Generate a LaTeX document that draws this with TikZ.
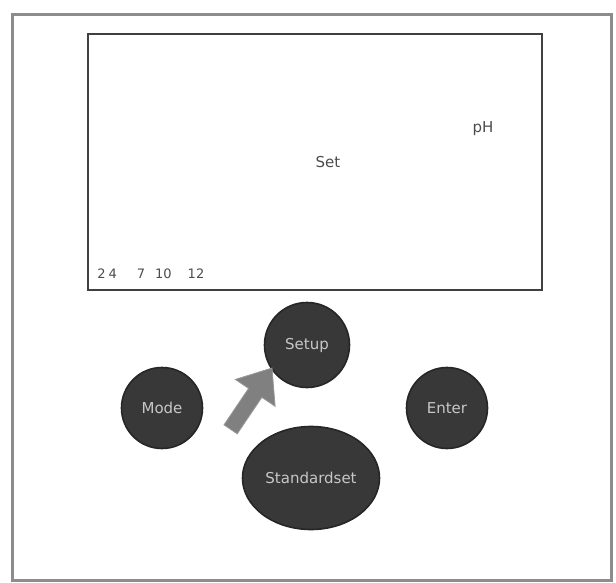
\documentclass[tikz,border=0pt]{standalone}
\usepackage{fontspec}
\setmainfont{DejaVu Sans}
\usetikzlibrary{shapes.geometric}
\begin{document}
\begin{tikzpicture}[x=0.5pt,y=-0.5pt,
	key/.style = {circle, draw=black!85, line width=0.8pt, fill=black!78, text=black!22, font=\fontsize{7.5}{9}\selectfont, inner sep=0pt},
	lcd/.style = {text=black!70, font=\fontsize{7.5}{9}\selectfont, inner sep=0pt}]
	\useasboundingbox (0,0) rectangle (616,583);
	\draw [black!45, line width=1.5pt] (12,15) rectangle (611,580);
	\draw [black!75, line width=1.2pt] (88,34) rectangle (542,290);
	\node [lcd] (set) at (328,162) {Set};
	\node [lcd] (ph) at (483,129) {pH};
	\node [lcd, anchor=south west, font=\fontsize{6.5}{7.5}\selectfont] (scale) at (97,279) {2\hspace{1.5pt}4\hspace{10pt}7\hspace{5pt}10\hspace{8pt}12};
	\node [key, minimum size=42.5pt] (setup) at (307,345) {Setup};
	\node [key, minimum size=40.5pt] (mode) at (162,408) {Mode};
	\node [key, minimum size=40.5pt] (enter) at (447,408) {Enter};
	\node [key, ellipse, minimum width=68.5pt, minimum height=51.5pt] (std) at (311,478) {Standardset};
	\draw [fill=black!50, draw=black!40, rotate around={56:(272,368)}] (272,368) -- ++(-30,-24) -- ++(0,16) -- ++(-44,0) -- ++(0,16) -- ++(44,0) -- ++(0,16) -- cycle;
\end{tikzpicture}
\end{document}
